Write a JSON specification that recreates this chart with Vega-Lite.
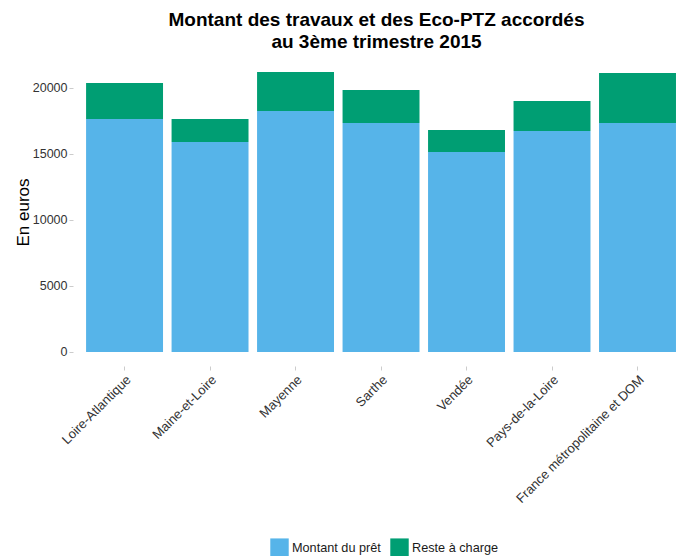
{
  "$schema": "https://vega.github.io/schema/vega-lite/v6.json",
  "autosize": {"type": "none"},
  "padding": {"left": 73, "top": 58, "right": 0, "bottom": 190},
  "width": 607,
  "height": 308,
  "background": "white",
  "title": {
    "text": ["Montant des travaux et des Eco-PTZ accordés", "au 3ème trimestre 2015"],
    "font": "Liberation Sans",
    "fontSize": 19,
    "fontWeight": "bold",
    "color": "#000000",
    "anchor": "middle",
    "lineHeight": 22,
    "offset": 6
  },
  "data": {
    "values": [
      {"region": "Loire-Atlantique", "type": "Montant du prêt", "value": 17630},
      {"region": "Loire-Atlantique", "type": "Reste à charge", "value": 2727},
      {"region": "Maine-et-Loire", "type": "Montant du prêt", "value": 15886},
      {"region": "Maine-et-Loire", "type": "Reste à charge", "value": 1743},
      {"region": "Mayenne", "type": "Montant du prêt", "value": 18235},
      {"region": "Mayenne", "type": "Reste à charge", "value": 2955},
      {"region": "Sarthe", "type": "Montant du prêt", "value": 17326},
      {"region": "Sarthe", "type": "Reste à charge", "value": 2500},
      {"region": "Vendée", "type": "Montant du prêt", "value": 15129},
      {"region": "Vendée", "type": "Reste à charge", "value": 1667},
      {"region": "Pays-de-la-Loire", "type": "Montant du prêt", "value": 16720},
      {"region": "Pays-de-la-Loire", "type": "Reste à charge", "value": 2273},
      {"region": "France métropolitaine et DOM", "type": "Montant du prêt", "value": 17326},
      {"region": "France métropolitaine et DOM", "type": "Reste à charge", "value": 3788}
    ]
  },
  "mark": {"type": "bar"},
  "encoding": {
    "x": {
      "field": "region",
      "type": "nominal",
      "sort": null,
      "scale": {"paddingInner": 0.1, "paddingOuter": 0.1, "align": 0.765},
      "axis": {
        "title": null,
        "labelAngle": -45,
        "labelFont": "Liberation Sans",
        "labelFontSize": 13,
        "labelColor": "#333333",
        "labelPadding": 3,
        "domain": false,
        "tickColor": "#cccccc",
        "tickSize": 4,
        "offset": 0
      }
    },
    "y": {
      "field": "value",
      "type": "quantitative",
      "stack": "zero",
      "scale": {"domain": [-1060, 22250], "nice": false, "zero": false},
      "axis": {
        "title": "En euros",
        "titleFont": "Liberation Sans",
        "titleFontSize": 17,
        "titleFontWeight": "normal",
        "titleColor": "#000000",
        "titlePadding": 0,
        "values": [0, 5000, 10000, 15000, 20000],
        "format": "d",
        "labelFont": "Liberation Sans",
        "labelFontSize": 12.5,
        "labelColor": "#333333",
        "labelPadding": 2,
        "domain": false,
        "grid": false,
        "tickColor": "#cccccc",
        "tickSize": 4
      }
    },
    "color": {
      "field": "type",
      "type": "nominal",
      "scale": {"domain": ["Montant du prêt", "Reste à charge"], "range": ["#56B4E9", "#009E73"]},
      "legend": {
        "title": null,
        "orient": "none",
        "legendX": 197,
        "legendY": 480,
        "direction": "horizontal",
        "padding": 0,
        "symbolType": "square",
        "symbolSize": 340,
        "symbolStrokeWidth": 0,
        "symbolOpacity": 1,
        "labelFont": "Liberation Sans",
        "labelFontSize": 12.7,
        "labelColor": "#1a1a1a",
        "labelOffset": 3,
        "columnPadding": 9
      }
    },
    "order": {"field": "type", "sort": "ascending"}
  },
  "config": {
    "view": {"stroke": null}
  }
}
